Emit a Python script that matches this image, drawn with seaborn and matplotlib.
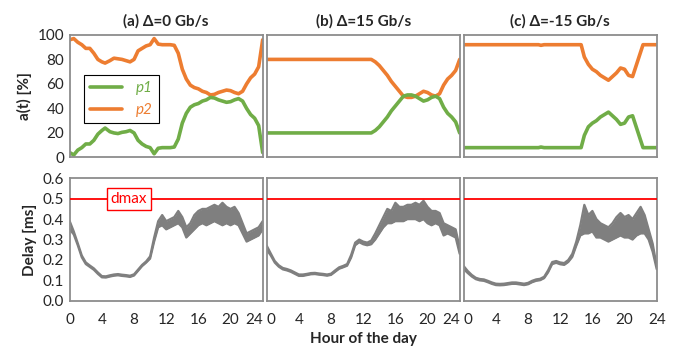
import matplotlib
matplotlib.use("Agg")
import matplotlib.pyplot as plt
import seaborn as sns

# share of traffic on each path, %
hours_a = [0, 0.5, 1, 1.5, 2, 2.5, 3, 3.5, 4, 4.4, 5, 5.5, 6, 6.5, 7, 7.5, 8, 8.5, 9, 9.5,
           10, 10.5, 11, 11.5, 12, 12.5, 13, 13.5, 14, 14.5, 15, 15.5, 16, 16.5, 17, 17.5,
           18, 18.5, 19, 19.5, 20, 20.5, 21, 21.5, 22, 22.5, 23, 23.5, 23.75, 24]
p1_a = [4, 2, 6, 8, 11, 11, 14, 19, 22, 24, 21, 20, 19.5, 20.5, 21, 22, 20, 14, 11, 9,
        8, 3, 7.5, 8, 8, 8, 8.5, 15, 28, 36, 41, 43, 44, 46, 47, 49,
        48.5, 47, 46, 45, 45.5, 47, 48, 46, 40, 35, 32, 26, 15, 4]
p2_a = [96, 97, 94, 92, 89, 89, 85, 80, 78, 77, 79, 81, 80.5, 80, 79, 78, 80, 87, 89, 91,
        92, 97, 92.5, 92, 92, 92, 91.5, 85, 72, 64, 59, 57, 56, 54, 53, 51,
        51.5, 53, 54, 55, 54.5, 53, 52, 54, 60, 65, 68, 74, 85, 96]

hours_b = [0, 13, 13.5, 14, 14.5, 15, 15.5, 16, 16.5, 17, 17.5, 18, 18.5, 19, 19.5, 20,
           20.5, 21, 21.5, 22, 22.5, 23, 23.5, 24]
p1_b = [20, 20, 22, 25, 29, 33, 38, 42, 46, 50, 51, 51, 50, 48, 46, 47,
        49, 50, 48, 41, 36, 33, 29, 20]
p2_b = [80, 80, 78, 75, 71, 67, 62, 58, 54, 50, 49, 49, 50, 52, 54, 53,
        51, 50, 52, 59, 64, 67, 71, 80]

hours_c = [0, 9.3, 9.6, 10, 14.6, 15, 15.5, 16, 16.5, 17, 17.5, 18, 18.5, 19, 19.5, 20,
           20.5, 21, 21.5, 22, 22.3, 24]
p1_c = [8, 8, 8.5, 8, 8, 18, 25, 28, 30, 33, 35, 37, 34, 31, 27, 28,
        33, 34, 24, 14, 8, 8]
p2_c = [92, 92, 91.5, 92, 92, 82, 76, 72, 70, 67, 65, 63, 66, 69, 73, 72,
        67, 66, 76, 86, 92, 92]

# delay envelope (low / high), ms
delay_hours = [0, 0.5, 1, 1.5, 2, 2.5, 3, 3.5, 4, 4.5, 5, 5.5, 6, 6.5, 7, 7.5, 8, 8.5,
               9, 9.5, 10, 10.5, 11, 11.5, 12, 12.5, 13, 13.5, 14, 14.5, 15, 15.5, 16,
               16.5, 17, 17.5, 18, 18.5, 19, 19.5, 20, 20.5, 21, 21.5, 22, 22.5, 23,
               23.5, 24]
delay_lo_a = [0.35, 0.325, 0.272, 0.213, 0.18, 0.166, 0.152, 0.132, 0.115, 0.114, 0.119,
              0.123, 0.125, 0.122, 0.12, 0.117, 0.124, 0.147, 0.17, 0.187, 0.207, 0.29,
              0.36, 0.37, 0.35, 0.36, 0.37, 0.38, 0.36, 0.31, 0.33, 0.35, 0.37, 0.38,
              0.37, 0.38, 0.39, 0.38, 0.37, 0.38, 0.37, 0.38, 0.37, 0.33, 0.29, 0.30,
              0.31, 0.32, 0.35]
delay_hi_a = [0.39, 0.34, 0.282, 0.222, 0.188, 0.173, 0.159, 0.139, 0.121, 0.12, 0.125,
              0.129, 0.131, 0.128, 0.126, 0.123, 0.13, 0.153, 0.176, 0.193, 0.218, 0.31,
              0.39, 0.42, 0.39, 0.40, 0.41, 0.44, 0.41, 0.36, 0.38, 0.42, 0.44, 0.45,
              0.45, 0.46, 0.47, 0.46, 0.48, 0.46, 0.45, 0.46, 0.43, 0.38, 0.33, 0.34,
              0.35, 0.36, 0.39]
delay_lo_b = [0.25, 0.222, 0.187, 0.167, 0.154, 0.149, 0.142, 0.132, 0.122, 0.122, 0.126,
              0.13, 0.131, 0.128, 0.126, 0.123, 0.127, 0.142, 0.157, 0.164, 0.172, 0.212,
              0.272, 0.287, 0.277, 0.272, 0.277, 0.30, 0.33, 0.36, 0.38, 0.38, 0.39,
              0.39, 0.39, 0.40, 0.40, 0.40, 0.39, 0.40, 0.38, 0.37, 0.38, 0.37, 0.32,
              0.33, 0.32, 0.31, 0.23]
delay_hi_b = [0.27, 0.232, 0.195, 0.174, 0.161, 0.156, 0.149, 0.139, 0.129, 0.129, 0.132,
              0.136, 0.137, 0.134, 0.132, 0.129, 0.133, 0.149, 0.164, 0.171, 0.18, 0.225,
              0.285, 0.3, 0.29, 0.285, 0.295, 0.33, 0.37, 0.41, 0.45, 0.44, 0.48, 0.46,
              0.46, 0.47, 0.47, 0.48, 0.47, 0.49, 0.46, 0.44, 0.44, 0.43, 0.38, 0.37,
              0.36, 0.35, 0.26]
delay_lo_c = [0.155, 0.136, 0.119, 0.106, 0.1, 0.098, 0.091, 0.083, 0.077, 0.076, 0.077,
              0.08, 0.083, 0.083, 0.08, 0.077, 0.081, 0.091, 0.098, 0.101, 0.111, 0.14,
              0.18, 0.186, 0.179, 0.176, 0.19, 0.215, 0.27, 0.32, 0.33, 0.33, 0.34, 0.31,
              0.31, 0.30, 0.29, 0.30, 0.31, 0.32, 0.31, 0.31, 0.30, 0.32, 0.33, 0.33,
              0.30, 0.24, 0.155]
delay_hi_c = [0.17, 0.146, 0.127, 0.113, 0.107, 0.105, 0.098, 0.09, 0.084, 0.083, 0.084,
              0.087, 0.09, 0.09, 0.087, 0.084, 0.088, 0.098, 0.105, 0.108, 0.118, 0.15,
              0.19, 0.195, 0.188, 0.185, 0.2, 0.23, 0.29, 0.37, 0.47, 0.42, 0.44, 0.40,
              0.38, 0.37, 0.36, 0.38, 0.41, 0.43, 0.41, 0.42, 0.40, 0.43, 0.46, 0.42,
              0.35, 0.28, 0.17]

titles = ["(a) Δ=0 Gb/s", "(b) Δ=15 Gb/s", "(c) Δ=-15 Gb/s"]
hour_ticks = [0, 4, 8, 12, 16, 20, 24]
d_max = 0.5

sns.set_style("white")
plt.rcParams['font.family'] = ['Lato', 'DejaVu Sans']

GREEN = '#70AD47'
ORANGE = '#ED7D31'
GRAY = '#7F7F7F'
FRAME = '#8C8C8C'

fig, axes = plt.subplots(2, 3, figsize=(6.77, 3.49), dpi=100)
fig.subplots_adjust(left=0.103, right=0.970, bottom=0.138, top=0.900,
                    wspace=0.021, hspace=0.17)

shares = [(hours_a, p1_a, p2_a), (hours_b, p1_b, p2_b), (hours_c, p1_c, p2_c)]
delays = [(delay_lo_a, delay_hi_a), (delay_lo_b, delay_hi_b), (delay_lo_c, delay_hi_c)]

for col in range(3):
    h, p1, p2 = shares[col]
    lo, hi = delays[col]

    ax = axes[0, col]
    sns.lineplot(x=h, y=p2, ax=ax, color=ORANGE, lw=2.6, label='p2')
    sns.lineplot(x=h, y=p1, ax=ax, color=GREEN, lw=2.6, label='p1')
    ax.set_ylim(0, 100)
    ax.set_yticks([0, 20, 40, 60, 80, 100])
    ax.set_title(titles[col], fontsize=11, fontweight='bold', pad=7)
    if col == 0:
        hs, ls = ax.get_legend_handles_labels()
        leg = ax.legend(hs[::-1], ls[::-1], loc='upper left', bbox_to_anchor=(0.073, 0.67),
                        borderaxespad=0, handlelength=2.1, handletextpad=0.9,
                        fancybox=False, edgecolor='black', framealpha=1,
                        prop={'style': 'italic', 'size': 11})
        leg.get_frame().set_linewidth(0.8)
        for txt, c in zip(leg.get_texts(), [GREEN, ORANGE]):
            txt.set_color(c)
        ax.set_ylabel('a(t) [%]', fontsize=11, fontweight='bold')
    else:
        ax.get_legend().remove()
        ax.set_yticklabels([])
    ax.set_xticks(hour_ticks)
    ax.set_xticklabels([])

    ax = axes[1, col]
    ax.fill_between(delay_hours, lo, hi, color=GRAY, lw=0)
    sns.lineplot(x=delay_hours, y=lo, ax=ax, color=GRAY, lw=1.6)
    sns.lineplot(x=delay_hours, y=hi, ax=ax, color=GRAY, lw=1.6)
    ax.axhline(d_max, color='#FF0000', lw=1.3, zorder=5)
    ax.set_ylim(0, 0.6)
    ax.set_yticks([0.0, 0.1, 0.2, 0.3, 0.4, 0.5, 0.6])
    if col == 0:
        ax.set_yticklabels([f"{v:.1f}" for v in ax.get_yticks()])
        ax.set_ylabel('Delay [ms]', fontsize=11, fontweight='bold')
        ax.text(7.35, d_max, 'dmax', color='#FF0000', ha='center', va='center',
                fontsize=11, zorder=6,
                bbox=dict(boxstyle='square,pad=0.25', fc='white', ec='#FF0000', lw=1))
    else:
        ax.set_yticklabels([])
    ax.set_xticks(hour_ticks)
    labels = ax.set_xticklabels([str(t) for t in hour_ticks])
    # neighbouring panels share the 24|0 boundary: push the end labels apart
    if col > 0:
        labels[0].set_horizontalalignment('left')
    if col < 2:
        labels[-1].set_horizontalalignment('right')
    if col == 1:
        ax.set_xlabel('Hour of the day', fontsize=11, fontweight='bold', labelpad=3)

for ax in axes.flat:
    ax.set_xlim(0, 24)
    ax.tick_params(direction='in', length=4, width=1, color=FRAME,
                   labelsize=11, pad=4)
    for s in ax.spines.values():
        s.set_color(FRAME)
        s.set_linewidth(1.3)
for ax in axes[1]:
    ax.tick_params(axis='x', pad=9)

fig.savefig('out.png', dpi=100)
